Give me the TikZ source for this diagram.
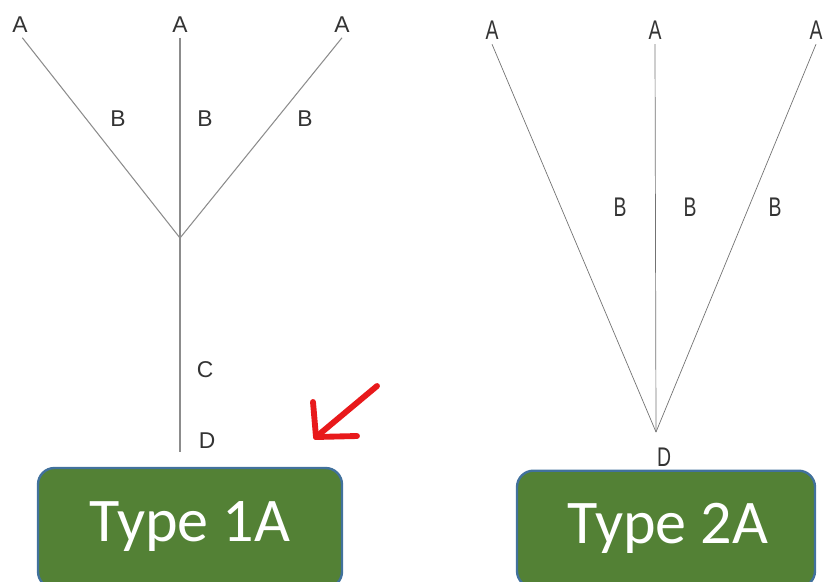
\documentclass[tikz,border=0pt]{standalone}
\usepackage{fontspec}
\usepackage{xcolor}
\usepackage{tikz}
\usetikzlibrary{
    positioning,
}

\newfontfamily\labelfont{Liberation Sans}
\newfontfamily\narrowfont[FakeStretch=0.72]{Liberation Sans}
\newfontfamily\boxfont{Carlito}

\definecolor{boxgreen}{HTML}{538135}
\definecolor{boxblue}{HTML}{41719C}
\definecolor{arrowred}{HTML}{E8191B}

\tikzset{
    branch/.style={draw=black!45,line width=0.9pt},
    thinbranch/.style={draw=black!55,line width=0.6pt},
    leftlabel/.style={inner sep=0pt,text=black!80,font=\labelfont\fontsize{19.5}{19.5}\selectfont},
    rightlabel/.style={inner sep=0pt,text=black!80,font=\narrowfont\fontsize{23}{23}\selectfont},
    typebox/.style={draw=boxblue,line width=2pt,fill=boxgreen,rounded corners=14pt},
    typetext/.style={text=white,font=\boxfont\fontsize{53}{53}\selectfont},
    redarrow/.style={draw=arrowred,line width=5pt,line cap=round,line join=round},
}

\begin{document}
\begin{tikzpicture}[x=0.03cm,y=-0.03cm]
    % \draw[help lines] grid (823,581);
    \useasboundingbox (0,0) rectangle (823,581);

    % Type 1A tree
    \begin{scope}
        % Tips
        \foreach \n / \x in {1/20,2/180,3/342} {
            \node[leftlabel] (la\n) at (\x,25) {A};
        }
        \coordinate (lj) at (180,238);
        \coordinate (lbot) at (180,452);

        % Branches
        \draw[branch] ([xshift=2pt,yshift=-4pt]la1.south) -- (lj);
        \draw[branch] ([yshift=-4pt]la2.south) -- (lbot);
        \draw[branch] ([yshift=-4pt]la3.south) -- (lj);

        % Labels
        \node[leftlabel] (lb1) at (118,119) {B};
        \node[leftlabel] (lb2) at (205,119) {B};
        \node[leftlabel] (lb3) at (305,119) {B};
        \node[leftlabel] (lc) at (205,370) {C};
        \node[leftlabel] (ld) at (207,441) {D};

        % Box
        \node[typebox,minimum width=9.12cm,minimum height=3.6cm] (t1) at (190,528) {};
        \node[typetext] (t1txt) at (190,527) {Type 1A};
    \end{scope}

    % Red arrow
    \coordinate (rtail) at (377,386);
    \coordinate (rtip) at (316,437);
    \coordinate (rup) at (313,402);
    \coordinate (rright) at (357,436);
    \draw[redarrow] (rtail) -- (rtip);
    \draw[redarrow] (rup) -- (rtip) -- (rright);

    % Type 2A tree
    \begin{scope}
        % Tips
        \foreach \n / \x in {1/492,2/655,3/816} {
            \node[rightlabel] (ra\n) at (\x,30) {A};
        }
        \coordinate (rj) at (656,432);

        % Branches
        \foreach \n in {1,2,3} {
            \draw[thinbranch] ([yshift=-4pt]ra\n.south) -- (rj);
        }

        % Labels
        \node[rightlabel] (rb1) at (620,207) {B};
        \node[rightlabel] (rb2) at (690,207) {B};
        \node[rightlabel] (rb3) at (775,207) {B};
        \node[rightlabel] (rd) at (664,457) {D};

        % Box
        \node[typebox,minimum width=8.94cm,minimum height=3.5cm] (t2) at (666,529) {};
        \node[typetext] (t2txt) at (668,528) {Type 2A};
    \end{scope}

\end{tikzpicture}
\end{document}
